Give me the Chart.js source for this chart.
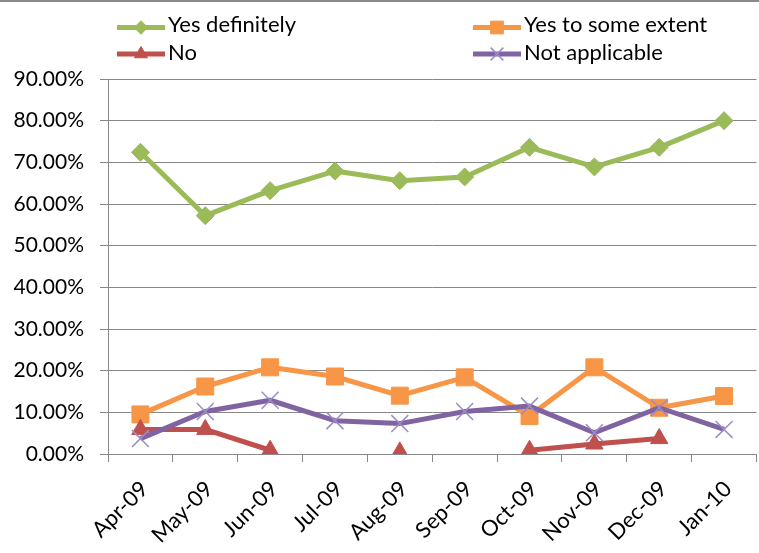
<!DOCTYPE html>
<html>
<head>
<meta charset="utf-8">
<script src="https://cdn.jsdelivr.net/npm/chart.js@4.4.0/dist/chart.umd.min.js"></script>
<style>
  html, body { margin: 0; padding: 0; background: #fff; overflow: hidden; }
  #wrap { position: absolute; left: 0; top: 0; width: 770px; height: 553px; }
</style>
</head>
<body>
<div id="wrap"><canvas id="chart"></canvas></div>
<script>
// chart values (percent)
const months = ['Apr-09','May-09','Jun-09','Jul-09','Aug-09','Sep-09','Oct-09','Nov-09','Dec-09','Jan-10'];
const yesDefinitely = [72.4, 57.2, 63.2, 67.9, 65.6, 66.5, 73.6, 68.9, 73.6, 80.0];
const yesSomeExtent = [9.5, 16.2, 20.8, 18.6, 14.0, 18.4, 9.1, 20.8, 11.1, 13.9];
const no            = [5.9, 5.9, 0.9, null, 0.5, null, 0.9, 2.4, 3.7, null];
const notApplicable = [3.7, 10.2, 12.9, 8.0, 7.3, 10.2, 11.5, 5.1, 11.1, 5.9];
const yTicks = [0, 10, 20, 30, 40, 50, 60, 70, 80, 90];

const FONT = 'Lato, "Open Sans", sans-serif';
const GRID = '#878787';

function series(label, data, color, style, radius, order, extra){
  return Object.assign({
    label, data, order,
    borderColor: color,
    backgroundColor: color,
    borderWidth: 5,
    borderJoinStyle: 'round',
    tension: 0,
    spanGaps: false,
    pointStyle: style,
    pointRadius: radius,
    pointHoverRadius: radius,
    pointBackgroundColor: color,
    pointBorderColor: color,
    pointBorderWidth: 1
  }, extra || {});
}

// background, top frame line and a two-column legend
const decor = {
  id: 'decor',
  beforeDraw(chart){
    const ctx = chart.ctx;
    ctx.save();
    ctx.fillStyle = '#fff';
    ctx.fillRect(0, 0, chart.width, chart.height);
    ctx.fillStyle = '#8a8a8a';
    ctx.fillRect(0, 0, chart.width, 2);
    ctx.restore();
  },
  afterDraw(chart){
    const ctx = chart.ctx;
    const cols = [117, 473];
    const rows = [{line: 27.5, base: 31.5}, {line: 54, base: 59.5}];
    ctx.save();
    chart.data.datasets.forEach((ds, i) => {
      const x0 = cols[i % 2];
      const r = rows[Math.floor(i / 2)];
      ctx.strokeStyle = ds.borderColor;
      ctx.lineWidth = 5;
      ctx.lineCap = 'butt';
      ctx.beginPath();
      ctx.moveTo(x0, r.line);
      ctx.lineTo(x0 + 48, r.line);
      ctx.stroke();
      if (Chart.helpers && Chart.helpers.drawPoint) {
        ctx.fillStyle = ds.pointBackgroundColor;
        ctx.strokeStyle = ds.pointBorderColor;
        ctx.lineWidth = ds.pointBorderWidth;
        Chart.helpers.drawPoint(ctx, {
          pointStyle: ds.pointStyle,
          radius: ds.pointRadius * 0.75,
          rotation: 0,
          borderWidth: ds.pointBorderWidth
        }, x0 + 24, r.line);
      }
      ctx.fillStyle = '#000';
      ctx.font = '22px ' + FONT;
      ctx.textAlign = 'left';
      ctx.textBaseline = 'alphabetic';
      ctx.fillText(ds.label, x0 + 51, r.base);
    });
    ctx.restore();
  }
};

new Chart(document.getElementById('chart'), {
  type: 'line',
  data: {
    labels: months,
    datasets: [
      series('Yes definitely', yesDefinitely, '#9BBB59', 'rectRot', 9, 4),
      series('Yes to some extent', yesSomeExtent, '#F79646', 'rect', 12, 3),
      series('No', no, '#C0504D', 'triangle', 10, 2),
      series('Not applicable', notApplicable, '#8064A2', 'crossRot', 12, 1,
        {pointBorderColor: '#9a8cc6', pointBorderWidth: 1.5})
    ]
  },
  options: {
    responsive: true,
    maintainAspectRatio: false,
    animation: false,
    layout: {padding: {top: 79, left: 0, right: 0, bottom: 0}},
    plugins: {legend: {display: false}, tooltip: {enabled: false}},
    scales: {
      x: {
        offset: true,
        grid: {offset: true, drawOnChartArea: false, drawTicks: true, tickLength: 8, color: GRID},
        border: {color: GRID, width: 1},
        ticks: {
          autoSkip: false, minRotation: 45, maxRotation: 45, padding: 14, labelOffset: 4,
          color: '#000', font: {family: FONT, size: 22}
        },
        afterFit(scale){ scale.height = 99; }
      },
      y: {
        min: 0, max: 90,
        afterBuildTicks(scale){ scale.ticks = yTicks.map(v => ({value: v})); },
        grid: {color: GRID, lineWidth: 1, drawTicks: true, tickLength: 8},
        border: {color: GRID, width: 1},
        ticks: {
          padding: 16, color: '#000', font: {family: FONT, size: 21},
          callback: v => v.toFixed(2) + '%'
        },
        afterFit(scale){ scale.width = 108; }
      }
    }
  },
  plugins: [decor]
});
</script>
</body>
</html>
